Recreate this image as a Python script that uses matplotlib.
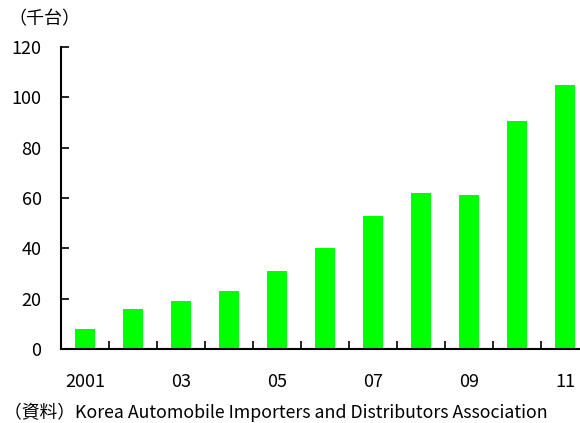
import matplotlib.pyplot as plt
import numpy as np

plt.rcParams['font.family'] = ['Noto Sans CJK JP', 'DejaVu Sans']

years = ['2001', '02', '03', '04', '05', '06', '07', '08', '09', '10', '11']
imports = [8, 16, 19, 23, 31, 40, 53, 62, 61, 90.5, 105]
shown_labels = ['2001', '', '03', '', '05', '', '07', '', '09', '', '11']

fig = plt.figure(figsize=(5.8, 4.23), dpi=100)
# plot area runs slightly past the right edge of the canvas
ax = fig.add_axes([61 / 580, 74 / 423, 528 / 580, 302 / 423])

x = np.arange(len(years))
ax.bar(x, imports, width=0.41, color='#00ff00', zorder=2)

ax.set_xlim(-0.5, len(years) - 0.5)
ax.set_ylim(0, 120)
ax.set_yticks(range(0, 121, 20))
ax.tick_params(axis='y', direction='in', length=6, width=1.2, labelsize=13, pad=14)

# category labels under each bar, boundary ticks between bars
ax.set_xticks(x)
ax.set_xticklabels(shown_labels, fontsize=13)
ax.tick_params(axis='x', which='major', length=0, pad=17)
ax.set_xticks(np.arange(-0.5, len(years)), minor=True)
ax.tick_params(axis='x', which='minor', direction='in', length=6, width=1.2)

for side in ['top', 'right']:
    ax.spines[side].set_visible(False)
for side in ['left', 'bottom']:
    ax.spines[side].set_linewidth(1.5)

fig.text(8 / 580, 1 - 19 / 423, '（千台）', fontsize=13, va='center', ha='left')
fig.text(4 / 580, 1 - 412 / 423, '（資料）Korea Automobile Importers and Distributors Association',
         fontsize=12.8, va='center', ha='left')

fig.savefig('out.png', dpi=100)
